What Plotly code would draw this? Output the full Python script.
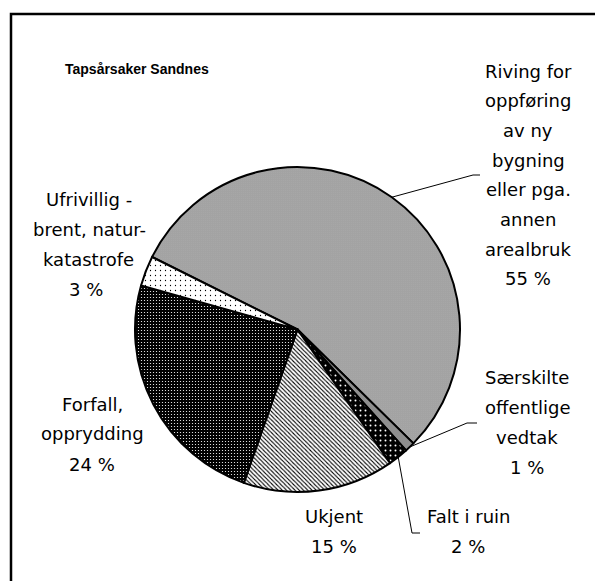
import math
import plotly.graph_objects as go

# the page body has an 8px margin; positions below are window pixels,
# shifted by that margin (the figure simply runs off the window edge,
# just as the chart frame does in the original)
BODY_MARGIN = 8
W, H = 603, 581

# ── Data ─────────────────────────────────────────────────────────
categories = [
    'Riving for oppføring av ny bygning eller pga. annen arealbruk',
    'Særskilte offentlige vedtak',
    'Falt i ruin',
    'Ukjent',
    'Forfall, opprydding',
    'Ufrivillig - brent, naturkatastrofe',
]
shares = [55, 1, 2, 15, 24, 3]

# label text, line by line (as wrapped in the original)
label_lines = [
    ['Riving for', 'oppføring', 'av ny', 'bygning', 'eller pga.', 'annen', 'arealbruk', '55 %'],
    ['Særskilte', 'offentlige', 'vedtak', '1 %'],
    ['Falt i ruin', '2 %'],
    ['Ukjent', '15 %'],
    ['Forfall,', 'opprydding', '24 %'],
    ['Ufrivillig -', 'brent, natur-', 'katastrofe', '3 %'],
]

START_ANGLE = 296.5          # first slice starts here, clockwise from 12 o'clock
CX, CY, R = 297.5, 329.5, 162.5

FONT = 'DejaVu Sans'


def px(x):
    return (x - BODY_MARGIN) / W


def py(y):
    return 1 - (y - BODY_MARGIN) / H


# ── Pie ──────────────────────────────────────────────────────────
fig = go.Figure(go.Pie(
    labels=categories,
    values=shares,
    sort=False,
    direction='clockwise',
    rotation=START_ANGLE - 360,
    textinfo='none',
    hoverinfo='label+percent',
    domain=dict(x=[px(CX - R), px(CX + R)], y=[py(CY + R), py(CY - R)]),
    marker=dict(
        colors=['white', 'white', 'black', 'white', 'black', 'white'],
        line=dict(color='black', width=2),
        pattern=dict(
            shape=['.', '.', '.', '\\', '.', '.'],
            fgcolor=['black', 'black', 'white', 'black', 'white', 'black'],
            bgcolor=['white', 'white', 'black', 'white', 'black', 'white'],
            size=[2, 2, 5, 3, 3, 5],
            solidity=[0.34, 0.5, 0.12, 0.35, 0.13, 0.05],
        ),
    ),
    showlegend=False,
))

# ── Labels ───────────────────────────────────────────────────────
# (centre x of each line, y of first line, line step)
label_pos = [
    ([528] * 8, 71, 29.7),
    ([527] * 4, 377.5, 30),
    ([468] * 2, 516, 30),
    ([334] * 2, 516, 30),
    ([92] * 3, 404, 30),
    ([89, 89, 88, 86], 199, 30),
]

annotations = [dict(
    text='<b>Tapsårsaker Sandnes</b>', x=px(63), y=py(69),
    xref='paper', yref='paper', xanchor='left', yanchor='middle',
    showarrow=False, font=dict(family='Liberation Sans', size=14, color='black'),
)]
for lines, (xs, y0, step) in zip(label_lines, label_pos):
    for i, (line, x) in enumerate(zip(lines, xs)):
        annotations.append(dict(
            text=line, x=px(x), y=py(y0 + i * step),
            xref='paper', yref='paper', xanchor='center', yanchor='middle',
            showarrow=False, font=dict(family=FONT, size=18, color='black'),
        ))

# ── Leader lines (start at the mid-angle of the slice) ────────────
total = sum(shares)
mid_angles = []
acc = 0
for v in shares:
    mid_angles.append(START_ANGLE + (acc + v / 2) / total * 360)
    acc += v


def edge_point(angle):
    a = math.radians(angle)
    return CX + R * math.sin(a), CY - R * math.cos(a)


leaders = {0: [(473, 175), (480, 175)],
           1: [(467, 423), (477, 423)],
           2: [(412, 533), (420, 533)]}

shapes = []
for idx, pts in leaders.items():
    sx, sy = edge_point(mid_angles[idx])
    path = f'M {px(sx)} {py(sy)}' + ''.join(f' L {px(x)} {py(y)}' for x, y in pts)
    shapes.append(dict(type='path', path=path, xref='paper', yref='paper',
                       line=dict(color='black', width=1)))

# chart frame (runs off the right and bottom of the picture)
shapes.append(dict(type='rect', xref='paper', yref='paper',
                   x0=px(11), y0=-0.1, x1=1.1, y1=py(14),
                   line=dict(color='black', width=2.5)))

fig.update_layout(
    width=W, height=H,
    margin=dict(l=0, r=0, t=0, b=0),
    paper_bgcolor='white',
    plot_bgcolor='white',
    annotations=annotations,
    shapes=shapes,
)

fig.write_html('out.html')
